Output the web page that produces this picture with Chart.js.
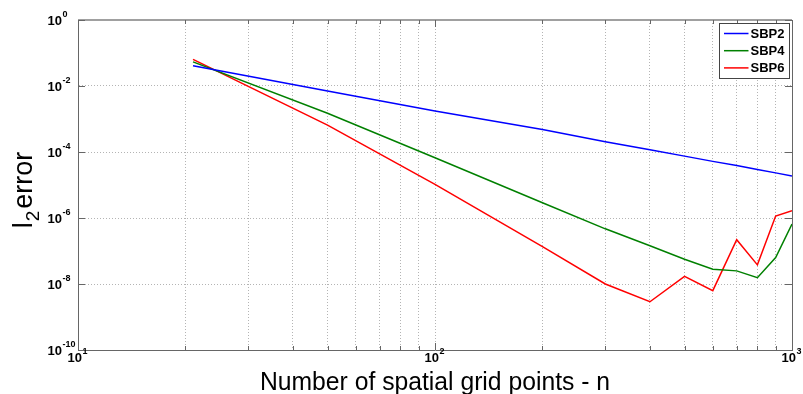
<!DOCTYPE html>
<html>
<head>
<meta charset="utf-8">
<script src="https://cdn.jsdelivr.net/npm/chart.js@4/dist/chart.umd.min.js"></script>
<style>
html, body { margin: 0; padding: 0; background: #fff; }
#wrap { width: 803px; height: 394px; position: relative; }
</style>
</head>
<body>
<div id="wrap"><canvas id="errChart"></canvas></div>
<script>
// grid sizes and l2 errors
const gridPoints = [21, 50, 100, 200, 300, 400, 500, 600, 700, 800, 900, 1000];
const sbp2Error = [4.1e-2, 7.1e-3, 1.74e-3, 4.8e-4, 2.06e-4, 1.17e-4, 7.5e-5, 5.2e-5, 3.9e-5, 2.96e-5, 2.33e-5, 1.87e-5];
const sbp4Error = [5.4e-2, 1.5e-3, 6.7e-5, 2.9e-6, 4.7e-7, 1.45e-7, 5.6e-8, 2.8e-8, 2.5e-8, 1.55e-8, 6.3e-8, 6.6e-7];
const sbp6Error = [6.4e-2, 6.5e-4, 1.05e-5, 1.36e-7, 1.0e-8, 2.9e-9, 1.7e-8, 6.3e-9, 2.2e-7, 3.8e-8, 1.15e-6, 1.66e-6];

// axis ticks
const xGridValues = [10, 20, 30, 40, 50, 60, 70, 80, 90, 100, 200, 300, 400, 500, 600, 700, 800, 900, 1000];
const xTickExponents = [1, 2, 3];
const yTickExponents = [0, -2, -4, -6, -8, -10];

const xTitle = 'Number of spatial grid points - n';
const FONT = '"Liberation Sans", Arial, sans-serif';

const toPoints = ys => gridPoints.map((n, i) => ({ x: n, y: ys[i] }));

// draws the MATLAB-like frame, inner ticks, 10^k labels, titles and legend
const matlabAxes = {
    id: 'matlabAxes',
    afterDraw(chart) {
        const ctx = chart.ctx;
        const area = chart.chartArea;
        const xs = chart.scales.x;
        const ys = chart.scales.y;

        ctx.save();
        // top and right frame
        ctx.strokeStyle = '#a0a0a0';
        ctx.lineWidth = 2;
        ctx.beginPath();
        ctx.moveTo(area.left, area.top);
        ctx.lineTo(area.right, area.top);
        ctx.stroke();
        ctx.strokeStyle = '#666';
        ctx.lineWidth = 1;
        ctx.beginPath();
        ctx.moveTo(area.right + 0.5, area.top);
        ctx.lineTo(area.right + 0.5, area.bottom);
        ctx.stroke();

        // inward ticks
        ctx.strokeStyle = '#666';
        ctx.beginPath();
        xGridValues.forEach(v => {
            const px = Math.round(xs.getPixelForValue(v)) + 0.5;
            const len = Number.isInteger(Math.log10(v)) ? 7 : 4;
            ctx.moveTo(px, area.bottom);
            ctx.lineTo(px, area.bottom - len);
            ctx.moveTo(px, area.top);
            ctx.lineTo(px, area.top + len);
        });
        yTickExponents.forEach(e => {
            const py = Math.round(ys.getPixelForValue(Math.pow(10, e))) + 0.5;
            ctx.moveTo(area.left, py);
            ctx.lineTo(area.left + 7, py);
            ctx.moveTo(area.right, py);
            ctx.lineTo(area.right - 7, py);
        });
        ctx.stroke();

        // tick labels with superscript exponents
        ctx.fillStyle = '#000';
        yTickExponents.forEach(e => {
            const py = ys.getPixelForValue(Math.pow(10, e));
            ctx.font = 'bold 13px ' + FONT;
            ctx.textAlign = 'right';
            ctx.textBaseline = 'middle';
            ctx.fillText('10', 62, py + 1);
            ctx.font = 'bold 9px ' + FONT;
            ctx.textAlign = 'left';
            ctx.fillText(String(e), 62.5, py - 5);
        });
        xTickExponents.forEach(e => {
            const px = xs.getPixelForValue(Math.pow(10, e));
            ctx.font = 'bold 13px ' + FONT;
            ctx.textAlign = 'right';
            ctx.textBaseline = 'middle';
            ctx.fillText('10', px + 4, area.bottom + 8);
            ctx.font = 'bold 9px ' + FONT;
            ctx.textAlign = 'left';
            ctx.fillText(String(e), px + 4.5, area.bottom + 2);
        });

        // x title
        ctx.save();
        ctx.translate((area.left + area.right) / 2, 390);
        ctx.scale(0.95, 1);
        ctx.font = '26px ' + FONT;
        ctx.textAlign = 'center';
        ctx.textBaseline = 'alphabetic';
        ctx.fillText(xTitle, 0, 0);
        ctx.restore();

        // y title: l with subscript 2, then "error"
        ctx.save();
        ctx.translate(32, 190);
        ctx.rotate(-Math.PI / 2);
        ctx.textBaseline = 'alphabetic';
        ctx.textAlign = 'left';
        ctx.font = '27px ' + FONT;
        const wl = ctx.measureText('l').width;
        const we = ctx.measureText('error').width;
        ctx.font = '19px ' + FONT;
        const w2 = ctx.measureText('2').width;
        const x0 = -(wl + w2 + 3 + we) / 2;
        ctx.font = '27px ' + FONT;
        ctx.fillText('l', x0, 0);
        ctx.font = '19px ' + FONT;
        ctx.fillText('2', x0 + wl + 1, 7);
        ctx.font = '27px ' + FONT;
        ctx.fillText('error', x0 + wl + w2 + 3, 0);
        ctx.restore();

        // legend box in the upper right corner
        const lx = 719.5, ly = 23.5, lw = 70, lh = 55;
        ctx.fillStyle = '#fff';
        ctx.fillRect(lx, ly, lw, lh);
        ctx.strokeStyle = '#444';
        ctx.lineWidth = 1;
        ctx.strokeRect(lx, ly, lw, lh);
        chart.data.datasets.forEach((ds, i) => {
            const ry = ly + 10 + i * 17.2;
            ctx.strokeStyle = ds.borderColor;
            ctx.lineWidth = 1.5;
            ctx.beginPath();
            ctx.moveTo(lx + 4.5, ry);
            ctx.lineTo(lx + 29, ry);
            ctx.stroke();
            ctx.fillStyle = '#000';
            ctx.font = 'bold 13px ' + FONT;
            ctx.textAlign = 'left';
            ctx.textBaseline = 'middle';
            ctx.fillText(ds.label, lx + 31, ry + 0.5);
        });
        ctx.restore();
    }
};

const errCtx = document.getElementById('errChart').getContext('2d');

new Chart(errCtx, {
    type: 'line',
    data: {
        datasets: [
            {
                label: 'SBP2',
                data: toPoints(sbp2Error),
                borderColor: '#0000ff',
                borderWidth: 1.5,
                pointRadius: 0,
                tension: 0
            },
            {
                label: 'SBP4',
                data: toPoints(sbp4Error),
                borderColor: '#008000',
                borderWidth: 1.5,
                pointRadius: 0,
                tension: 0
            },
            {
                label: 'SBP6',
                data: toPoints(sbp6Error),
                borderColor: '#ff0000',
                borderWidth: 1.5,
                pointRadius: 0,
                tension: 0
            }
        ]
    },
    options: {
        responsive: true,
        maintainAspectRatio: false,
        animation: false,
        layout: {
            padding: { top: 20, right: 11, left: 0, bottom: 0 }
        },
        plugins: {
            legend: { display: false },
            tooltip: { enabled: false }
        },
        scales: {
            x: {
                type: 'logarithmic',
                min: 10,
                max: 1000,
                afterBuildTicks: scale => {
                    scale.ticks = xGridValues.map(v => ({ value: v }));
                },
                afterFit: scale => {
                    scale.height = 44;
                },
                ticks: { display: false },
                grid: {
                    drawTicks: false,
                    color: '#b4b4b4',
                    lineWidth: 1
                },
                border: {
                    display: true,
                    color: '#666',
                    width: 1,
                    dash: [1, 2]
                }
            },
            y: {
                type: 'logarithmic',
                min: 1e-10,
                max: 1,
                afterBuildTicks: scale => {
                    scale.ticks = yTickExponents.map(e => ({ value: Math.pow(10, e) }));
                },
                afterFit: scale => {
                    scale.width = 78;
                },
                ticks: { display: false },
                grid: {
                    drawTicks: false,
                    color: '#b4b4b4',
                    lineWidth: 1
                },
                border: {
                    display: true,
                    color: '#666',
                    width: 1,
                    dash: [1, 2]
                }
            }
        }
    },
    plugins: [matlabAxes]
});
</script>
</body>
</html>
